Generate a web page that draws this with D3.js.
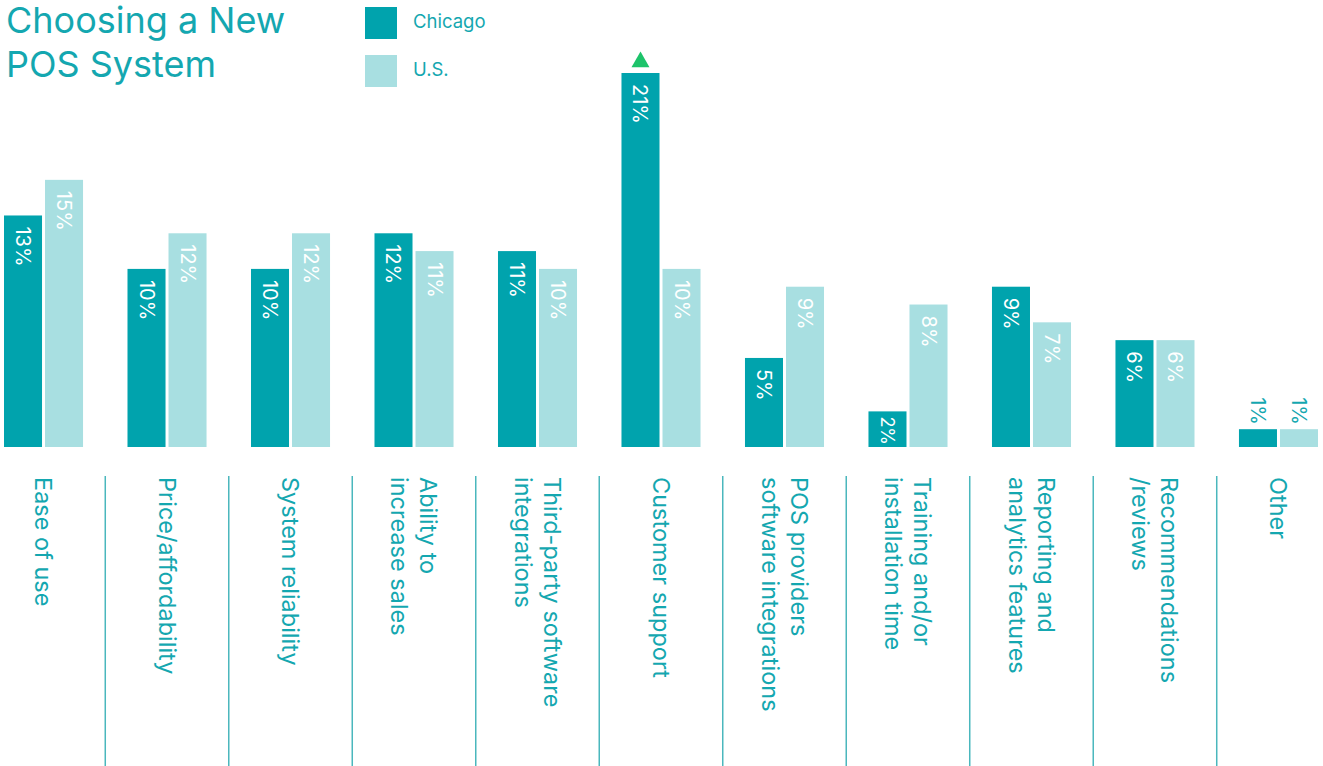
<!DOCTYPE html>
<html>
<head>
<meta charset="utf-8">
<script src="https://cdn.jsdelivr.net/npm/d3@7"></script>
<style>
  body { margin: 0; background: #fff; }
  svg { display: block; font-family: Inter, "Open Sans", sans-serif; }
</style>
</head>
<body>
<div id="chart"></div>
<script>
// data
const categories = [
  ["Ease of use"],
  ["Price/affordability"],
  ["System reliability"],
  ["Ability to", "increase sales"],
  ["Third-party software", "integrations"],
  ["Customer support"],
  ["POS providers", "software integrations"],
  ["Training and/or", "installation time"],
  ["Reporting and", "analytics features"],
  ["Recommendations", "/reviews"],
  ["Other"]
];
const seriesNames = ["Chicago", "U.S."];
const chicago = [13, 10, 10, 12, 11, 21, 5, 2, 9, 6, 1];
const us = [15, 12, 12, 11, 10, 10, 9, 8, 7, 6, 1];
const flagged = [5]; // index with the green up-arrow (Customer support)

const width = 1323, height = 766;
const colors = {"Chicago": "#00a3ad", "U.S.": "#a8dfe1"};
const teal = "#14a7b0";

let svg = d3.select("#chart").append("svg")
  .attr("width", width)
  .attr("height", height);

let keys = categories.map((c, i) => i);

let x0 = d3.scaleBand()
  .domain(keys)
  .range([4, 1318])
  .paddingInner(0.36)
  .paddingOuter(0);

let x1 = d3.scaleBand()
  .domain(seriesNames)
  .range([0, x0.bandwidth()])
  .paddingInner(0.073);

let y = d3.scaleLinear()
  .domain([0, 21])
  .range([447, 73]);

let rows = keys.map(i => ({i: i, values: [
  {name: "Chicago", v: chicago[i]},
  {name: "U.S.", v: us[i]}
]}));

// bars
let groups = svg.append("g").selectAll("g")
  .data(rows)
  .join("g")
  .attr("transform", d => "translate(" + x0(d.i) + ",0)");

groups.selectAll("rect")
  .data(d => d.values)
  .join("rect")
  .attr("x", d => x1(d.name))
  .attr("y", d => y(d.v))
  .attr("width", x1.bandwidth())
  .attr("height", d => y(0) - y(d.v))
  .attr("fill", d => colors[d.name]);

// value labels, rotated, inside the bar unless it is too short
function barH(d) { return y(0) - y(d.v); }
groups.selectAll("text.val")
  .data(d => d.values)
  .join("text")
  .attr("class", "val")
  .attr("transform", d => {
    let cx = x1(d.name) + x1.bandwidth() / 2;
    let h = barH(d);
    let ty = h < 30 ? y(d.v) - 32 : (h < 45 ? y(d.v) + 5 : y(d.v) + 11);
    return "translate(" + cx + "," + ty + ") rotate(90)";
  })
  .attr("dy", "0.35em")
  .attr("font-size", d => barH(d) < 45 && barH(d) >= 30 ? 18 : 20)
  .attr("fill", d => barH(d) < 30 ? teal : "#fff")
  .text(d => d.v + "%");

// green marker
svg.append("g").selectAll("path")
  .data(flagged)
  .join("path")
  .attr("transform", i => "translate(" + (x0(i) + x1("Chicago") + x1.bandwidth() / 2) + "," + (y(chicago[i]) - 11) + ")")
  .attr("d", d3.symbol().type(d3.symbolTriangle).size(140))
  .attr("fill", "#1dc36a");

// separators between categories
let step = x0.step();
svg.append("g").selectAll("line")
  .data(keys.slice(1))
  .join("line")
  .attr("x1", i => x0(i) - (step - x0.bandwidth()) / 2)
  .attr("x2", i => x0(i) - (step - x0.bandwidth()) / 2)
  .attr("y1", 476)
  .attr("y2", height)
  .attr("stroke", "#4ab7bd")
  .attr("stroke-width", 1.5);

// category labels, rotated, first line on the right
let lineGap = 29;
svg.append("g").selectAll("text")
  .data(rows)
  .join("text")
  .attr("transform", d => {
    let n = categories[d.i].length;
    let cx = x0(d.i) + x0.bandwidth() / 2 + (n - 1) * lineGap / 2;
    return "translate(" + cx + ",477) rotate(90)";
  })
  .attr("font-size", 23.5)
  .attr("fill", teal)
  .each(function (d) {
    d3.select(this).selectAll("tspan")
      .data(categories[d.i])
      .join("tspan")
      .attr("x", 0)
      .attr("y", (t, k) => k * lineGap)
      .attr("dy", "0.35em")
      .text(t => t);
  });

// title
let title = svg.append("text")
  .attr("x", 6)
  .attr("fill", teal)
  .attr("font-size", 36);
title.append("tspan").attr("x", 6).attr("y", 33).text("Choosing a New");
title.append("tspan").attr("x", 6).attr("y", 77).text("POS System");

// legend
let legend = svg.append("g").selectAll("g")
  .data(seriesNames)
  .join("g")
  .attr("transform", (d, k) => "translate(365," + (7 + k * 48) + ")");

legend.append("rect")
  .attr("width", 32)
  .attr("height", 32)
  .attr("fill", d => colors[d]);

legend.append("text")
  .attr("x", 48)
  .attr("y", 15)
  .attr("dy", "0.35em")
  .attr("font-size", 18.5)
  .attr("fill", teal)
  .text(d => d);
</script>
</body>
</html>
